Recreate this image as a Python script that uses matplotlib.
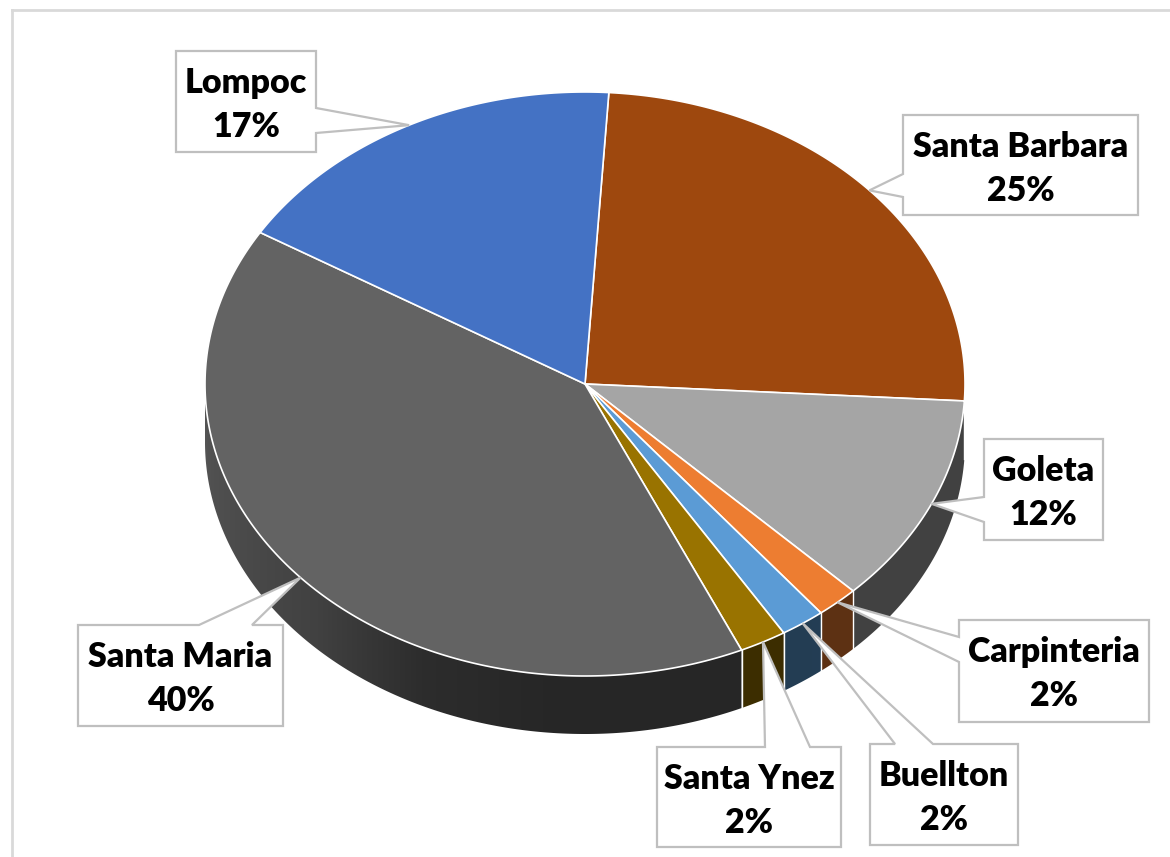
import numpy as np
import matplotlib
matplotlib.use("Agg")
import matplotlib.pyplot as plt
from matplotlib.patches import Polygon
from matplotlib.colors import to_rgb

# data (shares; labels show rounded percents)
cities = ["Santa Barbara", "Goleta", "Carpinteria", "Buellton",
          "Santa Ynez", "Santa Maria", "Lompoc"]
shares = [24.9, 11.6, 1.8, 1.9, 2.0, 40.4, 17.3]
colors = ["#9E480E", "#A5A5A5", "#ED7D31", "#5B9BD5",
          "#997300", "#636363", "#4472C4"]

# label boxes: (x0, y0, x1, y1), pointer side, pointer base span
boxes = [
    ((903, 115, 1138, 215), "left", (174, 197)),
    ((984, 439, 1103, 540), "left", (497, 522)),
    ((959, 620, 1149, 722), "left", (637, 662)),
    ((870, 744, 1018, 845), "top", (895, 933)),
    ((657, 747, 841, 847), "top", (765, 810)),
    ((78, 625, 283, 726), "top", (199, 252)),
    ((176, 51, 316, 152), "right", (108, 133)),
]

# pie geometry in pixel units
cx, cy = 585, 384
rx, ry = 380, 292
depth = 58
start_angle = 86.4

plt.rcParams["font.family"] = ["Lato", "DejaVu Sans"]

fig = plt.figure(figsize=(11.7, 8.57), dpi=100)
ax = fig.add_axes([0, 0, 1, 1])
ax.set_xlim(0, 1170)
ax.set_ylim(857, 0)
ax.axis("off")


def pt(t):
    r = np.radians(t)
    return cx + rx * np.cos(r), cy - ry * np.sin(r)


def shade_x(x):
    # side-wall lighting by position on the front rim: bright left, dark right
    t = 360 - np.degrees(np.arccos(np.clip((x - cx) / rx, -1, 1)))
    return np.interp(t, [180, 200, 225, 245, 265, 360],
                     [0.85, 0.78, 0.66, 0.45, 0.39, 0.40])


total = sum(shares)
bounds = start_angle - np.concatenate([[0], np.cumsum(shares)]) / total * 360

# side walls (front half only), filled with a horizontal gradient
for i, c in enumerate(colors):
    t0, t1 = bounds[i + 1], bounds[i]
    ts = np.linspace(t0, t1, 400)
    ts = ts[np.sin(np.radians(ts)) < 0]
    if len(ts) < 2:
        continue
    top = [pt(t) for t in ts]
    bot = [(x, y + depth) for x, y in top[::-1]]
    poly = Polygon(top + bot, closed=True, facecolor="none", edgecolor="none")
    ax.add_patch(poly)
    xs = np.array([p[0] for p in top])
    ys = np.array([p[1] for p in top])
    xg = np.linspace(xs.min(), xs.max(), 300)
    img = np.array(to_rgb(c))[None, None, :] * shade_x(xg)[None, :, None]
    im = ax.imshow(img, extent=(xs.min(), xs.max(), ys.max() + depth, ys.min()),
                   aspect="auto", interpolation="bilinear", zorder=1)
    im.set_clip_path(poly)

for t in bounds:
    if np.sin(np.radians(t)) < 0:
        x, y = pt(t)
        ax.plot([x, x], [y, y + depth], color="white", lw=1, zorder=2)

# top faces
for i, c in enumerate(colors):
    ts = np.linspace(bounds[i], bounds[i + 1], 200)
    verts = [(cx, cy)] + [pt(t) for t in ts]
    ax.add_patch(Polygon(verts, closed=True, facecolor=c, edgecolor="white",
                         lw=1.2, joinstyle="round", zorder=3))

# callout labels
for i, name in enumerate(cities):
    (x0, y0, x1, y1), side, (b0, b1) = boxes[i]
    tip = pt((bounds[i] + bounds[i + 1]) / 2)
    if side == "top":
        verts = [(x0, y0), (b0, y0), tip, (b1, y0), (x1, y0), (x1, y1), (x0, y1)]
    elif side == "left":
        verts = [(x0, y0), (x1, y0), (x1, y1), (x0, y1), (x0, b1), tip, (x0, b0)]
    else:
        verts = [(x0, y0), (x1, y0), (x1, b0), tip, (x1, b1), (x1, y1), (x0, y1)]
    ax.add_patch(Polygon(verts, closed=True, facecolor="white",
                         edgecolor="#BFBFBF", lw=1.6, zorder=5))
    pct = round(shares[i] / total * 100)
    xm = (x0 + x1) / 2
    ax.text(xm, y0 + 42, name, ha="center", va="baseline", fontsize=24.5,
            fontweight="heavy", color="black", zorder=6)
    ax.text(xm, y0 + 86, f"{pct}%", ha="center", va="baseline", fontsize=24.5,
            fontweight="heavy", color="black", zorder=6)

# chart area border
ax.plot([12, 1170], [10, 10], color="#D9D9D9", lw=2, zorder=0)
ax.plot([12, 12], [10, 857], color="#D9D9D9", lw=2, zorder=0)

ax.set_xlim(0, 1170)
ax.set_ylim(857, 0)
fig.savefig("out.png", dpi=100)
